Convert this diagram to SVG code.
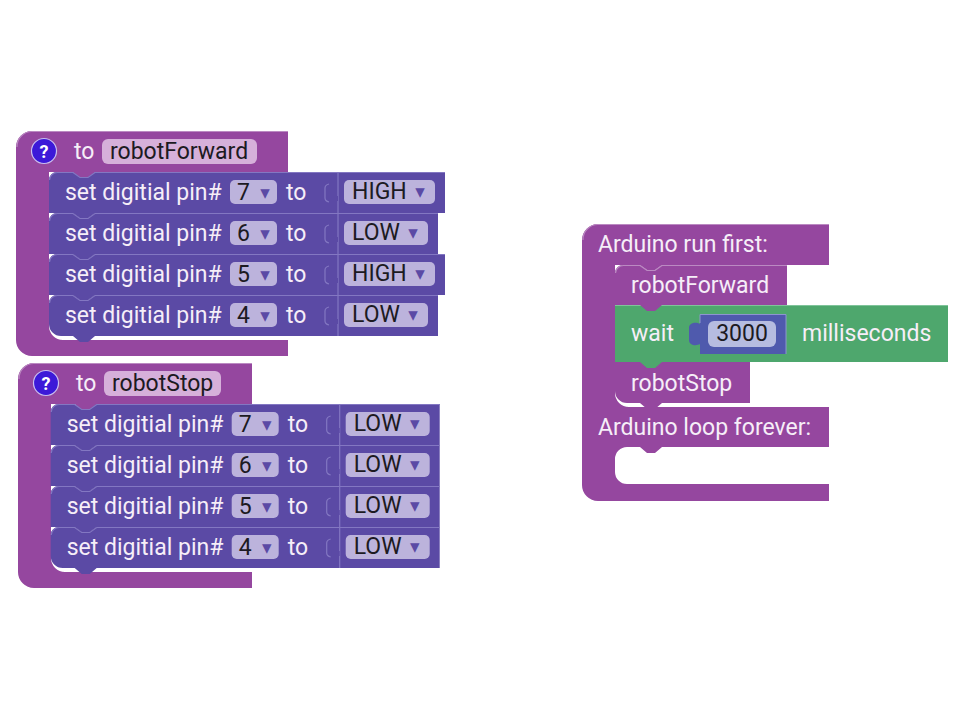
<svg xmlns="http://www.w3.org/2000/svg" width="960" height="720" viewBox="0 0 960 720">
<style>
text{font-family:Roboto,"Liberation Sans",sans-serif;font-size:23px}
.w{fill:#f6eef8}
.d{fill:#1c1a22}
.pur{fill:#95479f}
.ind{fill:#5b4aa5}
.grn{fill:#4ea76d}
.pill{fill:#bcb3dc}
.pink{fill:#d6b0da}
.hl{fill:none;stroke:#8377c2;stroke-width:1.2}
.hp{fill:none;stroke:#bb8ac2;stroke-width:1.2}
.hg{fill:none;stroke:#7fc49a;stroke-width:1}
.arr{fill:#5b4aa5;font-size:19px;font-family:"DejaVu Sans",sans-serif;text-anchor:middle}
.q{fill:#3c19d8;stroke:#c9bff0;stroke-width:1.2}
.qt{fill:#fff;font-weight:700;font-size:18px;text-anchor:middle}
</style>
<defs>
<path id="hiBody" class="ind" d="M0 8a8 8 0 0 1 8-8h16l7 5h8l7-5H396V41H46l-7 5h-8l-7-5H0Z"/>
<path id="loBody" class="ind" d="M0 8a8 8 0 0 1 8-8h16l7 5h8l7-5H389V41H46l-7 5h-8l-7-5H0Z"/>
<path id="lsBody" class="ind" d="M0 8a8 8 0 0 1 8-8h16l7 5h8l7-5H389V41H46l-7 6h-8l-7-6H12a12 12 0 0 1-12-12Z"/>
<path id="hiTop" class="hl" d="M0.500 8a8 8 0 0 1 8-7.500h15.500l7 5h8l7-5H396"/>
<path id="loTop" class="hl" d="M0.500 8a8 8 0 0 1 8-7.500h15.500l7 5h8l7-5H389"/>
<g id="seam">
<path class="hl" d="M289 0V41"/>
<path class="hl" d="M280 12q-4 1-4 4v10q0 3 4 4"/>
<path class="ind" d="M289 24h-8v5h8Z"/>
</g>
<rect id="pinPill" class="pill" x="181" y="8" width="47" height="24" rx="5"/>
<rect id="hiPill" class="pill" x="295" y="8" width="91" height="24" rx="5"/>
<rect id="loPill" class="pill" x="295" y="8" width="84" height="24" rx="5"/>
</defs>

<g id="robotForward-def">
<path class="pur" d="M32 131H288V172H95l-7 6h-8l-7-6H49V326a14 14 0 0 0 14 14H288V356H32a16 16 0 0 1-16-16V147a16 16 0 0 1 16-16Z"/>
<path class="hp" d="M17 147a15 15 0 0 1 15-15.500H288"/>
<circle class="q" cx="44" cy="151" r="12.500"/>
<text class="qt" x="44" y="157.500">?</text>
<text class="w" x="74" y="158.500">to</text>
<rect class="pink" x="102" y="139" width="155" height="25" rx="6"/>
<text class="d" x="110" y="158.500">robotForward</text>
</g>
<g id="fwd-row4" transform="translate(49 295)">
<use href="#lsBody"/><use href="#loTop"/><use href="#seam"/><use href="#pinPill"/><use href="#loPill"/>
<text class="w" x="16" y="28">set digitial pin#</text>
<text class="d" x="188" y="28">4<tspan class="arr" x="216" y="27">▾</tspan></text>
<text class="w" x="237" y="28">to</text>
<text class="d" x="303" y="27">LOW<tspan class="arr" x="364" y="26">▾</tspan></text>
</g>
<g id="fwd-row3" transform="translate(49 254)">
<use href="#hiBody"/><use href="#hiTop"/><use href="#seam"/><use href="#pinPill"/><use href="#hiPill"/>
<text class="w" x="16" y="28">set digitial pin#</text>
<text class="d" x="188" y="28">5<tspan class="arr" x="216" y="27">▾</tspan></text>
<text class="w" x="237" y="28">to</text>
<text class="d" x="303" y="27">HIGH<tspan class="arr" x="371" y="26">▾</tspan></text>
</g>
<g id="fwd-row2" transform="translate(49 213)">
<use href="#loBody"/><use href="#loTop"/><use href="#seam"/><use href="#pinPill"/><use href="#loPill"/>
<text class="w" x="16" y="28">set digitial pin#</text>
<text class="d" x="188" y="28">6<tspan class="arr" x="216" y="27">▾</tspan></text>
<text class="w" x="237" y="28">to</text>
<text class="d" x="303" y="27">LOW<tspan class="arr" x="364" y="26">▾</tspan></text>
</g>
<g id="fwd-row1" transform="translate(49 172)">
<use href="#hiBody"/><use href="#hiTop"/><use href="#seam"/><use href="#pinPill"/><use href="#hiPill"/>
<text class="w" x="16" y="28">set digitial pin#</text>
<text class="d" x="188" y="28">7<tspan class="arr" x="216" y="27">▾</tspan></text>
<text class="w" x="237" y="28">to</text>
<text class="d" x="303" y="27">HIGH<tspan class="arr" x="371" y="26">▾</tspan></text>
</g>

<g id="robotStop-def">
<path class="pur" d="M34 363H252V404H97l-7 6h-8l-7-6H51V558a14 14 0 0 0 14 14H252V588H34a16 16 0 0 1-16-16V379a16 16 0 0 1 16-16Z"/>
<path class="hp" d="M19 379a15 15 0 0 1 15-15.500H252"/>
<circle class="q" cx="46" cy="383" r="12.500"/>
<text class="qt" x="46" y="389.500">?</text>
<text class="w" x="76" y="390.500">to</text>
<rect class="pink" x="104" y="371" width="117" height="25" rx="6"/>
<text class="d" x="112" y="390.500">robotStop</text>
</g>
<g id="stop-row4" transform="translate(50.700 527)">
<use href="#lsBody"/><use href="#loTop"/><use href="#seam"/><use href="#pinPill"/><use href="#loPill"/>
<text class="w" x="16" y="28">set digitial pin#</text>
<text class="d" x="188" y="28">4<tspan class="arr" x="216" y="27">▾</tspan></text>
<text class="w" x="237" y="28">to</text>
<text class="d" x="303" y="27">LOW<tspan class="arr" x="364" y="26">▾</tspan></text>
</g>
<g id="stop-row3" transform="translate(50.700 486)">
<use href="#loBody"/><use href="#loTop"/><use href="#seam"/><use href="#pinPill"/><use href="#loPill"/>
<text class="w" x="16" y="28">set digitial pin#</text>
<text class="d" x="188" y="28">5<tspan class="arr" x="216" y="27">▾</tspan></text>
<text class="w" x="237" y="28">to</text>
<text class="d" x="303" y="27">LOW<tspan class="arr" x="364" y="26">▾</tspan></text>
</g>
<g id="stop-row2" transform="translate(50.700 445)">
<use href="#loBody"/><use href="#loTop"/><use href="#seam"/><use href="#pinPill"/><use href="#loPill"/>
<text class="w" x="16" y="28">set digitial pin#</text>
<text class="d" x="188" y="28">6<tspan class="arr" x="216" y="27">▾</tspan></text>
<text class="w" x="237" y="28">to</text>
<text class="d" x="303" y="27">LOW<tspan class="arr" x="364" y="26">▾</tspan></text>
</g>
<g id="stop-row1" transform="translate(50.700 404)">
<use href="#loBody"/><use href="#loTop"/><use href="#seam"/><use href="#pinPill"/><use href="#loPill"/>
<text class="w" x="16" y="28">set digitial pin#</text>
<text class="d" x="188" y="28">7<tspan class="arr" x="216" y="27">▾</tspan></text>
<text class="w" x="237" y="28">to</text>
<text class="d" x="303" y="27">LOW<tspan class="arr" x="364" y="26">▾</tspan></text>
</g>

<g id="arduino-main">
<path class="pur" d="M598 224H829V265H662l-7 5h-8l-7-5H615V393a14 14 0 0 0 14 14H829V447H662l-7 6h-8l-7-6H627a12 12 0 0 0-12 12V472a12 12 0 0 0 12 12H829V501H598a16 16 0 0 1-16-16V240a16 16 0 0 1 16-16Z"/>
<path class="hp" d="M583 240a15 15 0 0 1 15-15.500H829"/>
<text class="w" x="598" y="252">Arduino run first:</text>
<text class="w" x="598" y="434.500">Arduino loop forever:</text>
</g>
<g id="robotStop-call">
<path class="pur" d="M615 362H750V403H662l-7 6h-8l-7-6H627a12 12 0 0 1-12-12Z"/>
<text class="w" x="631" y="390.500">robotStop</text>
</g>
<g id="wait">
<path class="grn" d="M615 305H948V362H662l-7 6h-8l-7-6H615Z"/>
<path class="hg" d="M615 305.500H948"/>
<text class="w" x="631" y="340.500">wait</text>
<path fill="#4f5aad" d="M700 314H786V354H700V344c-3 2-11 2-11-4V328c0-6 8-6 11-4Z"/>
<path fill="none" stroke="#8d95cf" stroke-width="1" d="M700 323V314.500H786V354"/>
<rect x="708" y="321" width="68" height="26" rx="6" fill="#b6bce0"/>
<text class="d" x="742" y="341" text-anchor="middle">3000</text>
<text class="w" x="802" y="340.500">milliseconds</text>
</g>
<g id="robotForward-call">
<path class="pur" d="M615 273a8 8 0 0 1 8-8h17l7 5h8l7-5H787V305H662l-7 6h-8l-7-6H615Z"/>
<path class="hp" d="M615.500 273a8 8 0 0 1 8-7.500h16.500l7 5h8l7-5H787"/>
<text class="w" x="631" y="293">robotForward</text>
</g>
</svg>
